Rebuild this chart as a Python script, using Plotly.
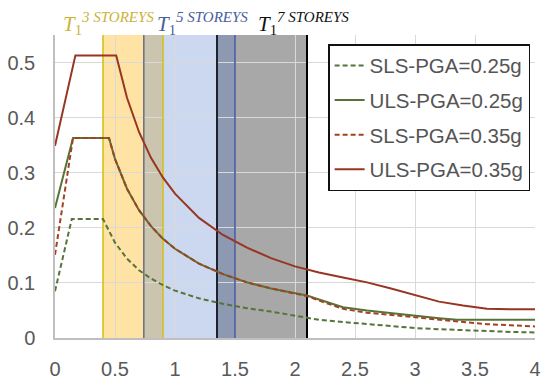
import plotly.graph_objects as go

# ---- data ----
T_sls25 = [0, 0.14, 0.40, 0.5, 0.6, 0.7, 0.8, 0.9, 1.0, 1.2, 1.4, 1.6, 1.8, 2.0, 2.2, 2.4, 2.6, 2.8, 3.0, 3.2, 3.4, 3.6, 3.8, 4.0]
Sa_sls25 = [0.085, 0.216, 0.216, 0.173, 0.144, 0.123, 0.108, 0.096, 0.086, 0.072, 0.062, 0.054, 0.048, 0.041, 0.033, 0.029, 0.025, 0.021, 0.018, 0.016, 0.014, 0.013, 0.011, 0.010]

T_uls25 = [0, 0.15, 0.45, 0.5, 0.6, 0.7, 0.8, 0.9, 1.0, 1.2, 1.4, 1.6, 1.8, 2.0, 2.1, 2.2, 2.4, 2.6, 2.8, 3.0, 3.2, 3.35, 3.6, 3.8, 4.0]
Sa_uls25 = [0.236, 0.363, 0.363, 0.325, 0.271, 0.232, 0.203, 0.180, 0.162, 0.135, 0.116, 0.101, 0.090, 0.081, 0.077, 0.070, 0.056, 0.050, 0.045, 0.040, 0.036, 0.033, 0.033, 0.033, 0.033]

T_sls35 = [0, 0.15, 0.45, 0.5, 0.6, 0.7, 0.8, 0.9, 1.0, 1.2, 1.4, 1.6, 1.8, 2.0, 2.1, 2.2, 2.4, 2.6, 2.8, 3.0, 3.2, 3.4, 3.6, 3.8, 4.0]
Sa_sls35 = [0.151, 0.363, 0.363, 0.325, 0.271, 0.232, 0.203, 0.180, 0.162, 0.135, 0.116, 0.101, 0.090, 0.081, 0.076, 0.068, 0.053, 0.046, 0.042, 0.037, 0.034, 0.029, 0.025, 0.023, 0.021]

T_uls35 = [0, 0.17, 0.51, 0.6, 0.7, 0.8, 0.9, 1.0, 1.2, 1.4, 1.6, 1.8, 2.0, 2.2, 2.4, 2.6, 2.8, 3.0, 3.2, 3.4, 3.6, 3.8, 4.0]
Sa_uls35 = [0.349, 0.513, 0.513, 0.436, 0.374, 0.327, 0.291, 0.262, 0.218, 0.187, 0.164, 0.145, 0.130, 0.119, 0.110, 0.101, 0.090, 0.078, 0.066, 0.059, 0.053, 0.052, 0.052]

series_names = ["SLS-PGA=0.25g", "ULS-PGA=0.25g", "SLS-PGA=0.35g", "ULS-PGA=0.35g"]

# period bands (T1 ranges) for 3, 5, 7 storeys
band_3 = [0.40, 0.90]
band_5 = [0.74, 1.50]
band_7 = [1.35, 2.10]
band_labels = ["3 STOREYS", "5 STOREYS", "7 STOREYS"]

x_ticks = [0, 0.5, 1, 1.5, 2, 2.5, 3, 3.5, 4]
y_ticks = [0, 0.1, 0.2, 0.3, 0.4, 0.5]

GREEN = "#56743a"
RED = "#a3421f"
RED_DARK = "#983522"
DASH = "5px,3px"

fig = go.Figure()
specs = [(T_sls25, Sa_sls25, GREEN, DASH), (T_uls25, Sa_uls25, GREEN, "solid"),
         (T_sls35, Sa_sls35, RED, DASH), (T_uls35, Sa_uls35, RED_DARK, "solid")]
for i, (xs, ys, col, dash) in enumerate(specs):
    fig.add_trace(go.Scatter(x=xs, y=ys, name=series_names[i], mode="lines", legendgroup=f"g{i}",
                             line=dict(color=col, width=2, dash=dash)))

# shaded bands
fig.add_shape(type="rect", xref="x", yref="y", x0=band_7[0], x1=band_7[1], y0=0, y1=0.55,
              fillcolor="rgba(0,0,0,0.34)", line_width=0, layer="below")
fig.add_shape(type="rect", xref="x", yref="y", x0=band_3[0], x1=band_3[1], y0=0, y1=0.55,
              fillcolor="rgba(255,185,30,0.40)", line_width=0, layer="below")
fig.add_shape(type="rect", xref="x", yref="y", x0=band_5[0], x1=band_5[1], y0=0, y1=0.55,
              fillcolor="rgba(68,114,196,0.28)", line_width=0, layer="below")

# band borders
for xv, col, w in [(band_3[0], "#d4c21a", 1.6), (band_3[1], "#d4c21a", 1.6),
                   (band_5[0], "#6f7488", 1.6), (band_5[1], "#5464a6", 1.8),
                   (band_7[0], "#1c2230", 2), (band_7[1], "#000000", 2)]:
    fig.add_shape(type="line", xref="x", yref="y", x0=xv, x1=xv, y0=0, y1=0.55,
                  line=dict(color=col, width=w), layer="between")

# labels above the plot
def px2paper(px, py):
    return (px - 55) / 480.0, (338 - py) / 303.0

label_specs = [(62, "#c9b43a", band_labels[0]), (156, "#46609c", band_labels[1]), (257, "#111111", band_labels[2])]
for px, col, txt in label_specs:
    xa, ya = px2paper(px, 39)
    fig.add_annotation(x=xa, y=ya, xref="paper", yref="paper",
                       text="<i>T</i><sub>1</sub><sup><span style='font-size:15px'><i>" + txt + "</i></span></sup>",
                       showarrow=False, xanchor="left", yanchor="bottom", borderpad=0,
                       font=dict(family="Liberation Serif", size=21, color=col))

fig.update_layout(
    width=550, height=380,
    margin=dict(l=55, r=15, t=35, b=42),
    paper_bgcolor="white", plot_bgcolor="white",
    font=dict(family="Liberation Sans", color="#595959", size=20),
    showlegend=True,
    legend=dict(x=0.569, y=0.97, xanchor="left", yanchor="top", tracegroupgap=5,
                bgcolor="white", bordercolor="#111111", borderwidth=1.5,
                font=dict(size=20.5, color="#555555"), itemwidth=30),
    xaxis=dict(range=[0, 4], tickvals=x_ticks, ticktext=[str(v) if v != int(v) else str(int(v)) for v in x_ticks],
               showgrid=True, gridcolor="#d9d9d9", gridwidth=1, automargin=False,
               showline=True, linecolor="#bfbfbf", linewidth=1.5, zeroline=False,
               ticks="", ticklabelstandoff=12),
    yaxis=dict(range=[0, 0.55], tickvals=y_ticks, ticktext=["0", "0.1", "0.2", "0.3", "0.4", "0.5"],
               showgrid=True, gridcolor="#d9d9d9", gridwidth=1, automargin=False,
               showline=True, linecolor="#bfbfbf", linewidth=1.5, zeroline=False,
               ticks="", ticklabelstandoff=14),
)

fig.write_html("out.html", config={"displayModeBar": False},
               post_script="document.body.style.margin='0';document.body.style.padding='0';")
